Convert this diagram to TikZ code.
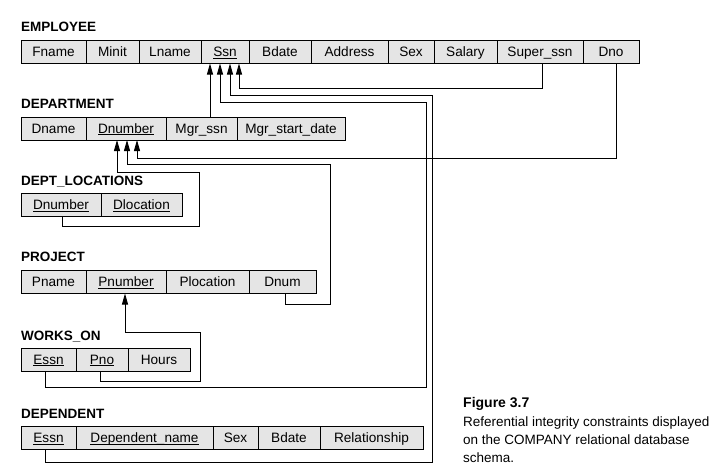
\documentclass[tikz,border=0pt]{standalone}
\usepackage{fontspec}
\setmainfont{Liberation Sans}
\usetikzlibrary{arrows.meta}

\tikzset{
    attrcell/.style={draw, fill=black!10, line width=0.9pt, anchor=west,
        minimum width=#1, minimum height=23pt, inner sep=1pt, outer sep=0pt,
        text height=11pt, text depth=1.7pt, font=\fontsize{13.6}{15}\selectfont},
    relname/.style={anchor=west, inner sep=0pt, font=\fontsize{13.5}{15}\selectfont\bfseries},
    fkey/.style={line width=0.9pt, -{Triangle[length=11pt, width=6pt]}},
}
\newcommand{\keyattr}[1]{\underline{\smash{#1}}}

\begin{document}
\begin{tikzpicture}[x=1pt, y=1pt]
        \useasboundingbox (0, 0) rectangle (727, -472);
        
        % EMPLOYEE
        \node[relname] (emp-title) at (21, -27) {EMPLOYEE};
        \node[attrcell=65] (emp-fname) at (21, -52) {Fname};
        \node[attrcell=53] (emp-minit) at (86, -52) {Minit};
        \node[attrcell=62] (emp-lname) at (139, -52) {Lname};
        \node[attrcell=48] (emp-ssn) at (201, -52) {\keyattr{Ssn}};
        \node[attrcell=62] (emp-bdate) at (249, -52) {Bdate};
        \node[attrcell=77] (emp-address) at (311, -52) {Address};
        \node[attrcell=46] (emp-sex) at (388, -52) {Sex};
        \node[attrcell=63] (emp-salary) at (434, -52) {Salary};
        \node[attrcell=86] (emp-superssn) at (497, -52) {Super\_ssn};
        \node[attrcell=56] (emp-dno) at (583, -52) {Dno};
        
        % DEPARTMENT
        \node[relname] (dept-title) at (21, -104) {DEPARTMENT};
        \node[attrcell=65] (dept-dname) at (21, -128.5) {Dname};
        \node[attrcell=80] (dept-dnumber) at (86, -128.5) {\keyattr{Dnumber}};
        \node[attrcell=71] (dept-mgrssn) at (166, -128.5) {Mgr\_ssn};
        \node[attrcell=108] (dept-mgrdate) at (237, -128.5) {Mgr\_start\_date};
        
        % DEPT_LOCATIONS
        \node[relname] (dl-title) at (21, -181.5) {DEPT\_LOCATIONS};
        \node[attrcell=80] (dl-dnumber) at (21, -205) {\keyattr{Dnumber}};
        \node[attrcell=81] (dl-dlocation) at (101, -205) {\keyattr{Dlocation}};
        
        % PROJECT
        \node[relname] (proj-title) at (21, -256.5) {PROJECT};
        \node[attrcell=65] (proj-pname) at (21, -282) {Pname};
        \node[attrcell=80] (proj-pnumber) at (86, -282) {\keyattr{Pnumber}};
        \node[attrcell=83] (proj-plocation) at (166, -282) {Plocation};
        \node[attrcell=67] (proj-dnum) at (249, -282) {Dnum};
        
        % WORKS_ON
        \node[relname] (won-title) at (21, -336.5) {WORKS\_ON};
        \node[attrcell=55] (won-essn) at (21, -359.5) {\keyattr{Essn}};
        \node[attrcell=52] (won-pno) at (76, -359.5) {\keyattr{Pno}};
        \node[attrcell=62] (won-hours) at (128, -359.5) {Hours};
        
        % DEPENDENT
        \node[relname] (dep-title) at (21, -414) {DEPENDENT};
        \node[attrcell=55] (dep-essn) at (21, -438) {\keyattr{Essn}};
        \node[attrcell=137] (dep-dname) at (76, -438) {\keyattr{Dependent\_name}};
        \node[attrcell=45] (dep-sex) at (213, -438) {Sex};
        \node[attrcell=62] (dep-bdate) at (258, -438) {Bdate};
        \node[attrcell=103] (dep-rel) at (320, -438) {Relationship};
        
        % Foreign keys to Ssn
        \draw[fkey] ([xshift=8.5]dept-mgrssn.north) -- ([xshift=-15]emp-ssn.south);
        \draw[fkey] ([xshift=-3.5]won-essn.south) -- ++(0, -16) -| (426, -102) -| ([xshift=-5]emp-ssn.south);
        \draw[fkey] ([xshift=-3.5]dep-essn.south) -- ++(0, -13) -| (432, -95) -| ([xshift=5]emp-ssn.south);
        \draw[fkey] ([xshift=2]emp-superssn.south) -- ++(0, -25) -| ([xshift=14]emp-ssn.south);
        
        % Foreign keys to Dnumber
        \draw[fkey] ([xshift=5]emp-dno.south) -- ++(0, -95) -| ([xshift=11]dept-dnumber.south);
        \draw[fkey] ([xshift=2.5]proj-dnum.south) -- ++(0, -11) -| (330, -164) -| ([xshift=1]dept-dnumber.south);
        \draw[fkey] ([xshift=1]dl-dnumber.south) -- ++(0, -10) -| (199, -172) -| ([xshift=-9]dept-dnumber.south);
        
        % Foreign key to Pnumber
        \draw[fkey] ([xshift=-2]won-pno.south) -- ++(0, -10) -| (200, -332) -| ([xshift=-1]proj-pnumber.south);
        
        % Caption
        \node[anchor=west, inner sep=0pt, font=\fontsize{14}{16}\selectfont\bfseries] (fig-label) at (463, -404) {Figure 3.7};
        \node[anchor=north west, inner sep=0pt, align=left, font=\fontsize{13.5}{18}\selectfont] (fig-caption) at (463, -417)
            {Referential integrity constraints displayed\\on the COMPANY relational database\\schema.};
\end{tikzpicture}
\end{document}
